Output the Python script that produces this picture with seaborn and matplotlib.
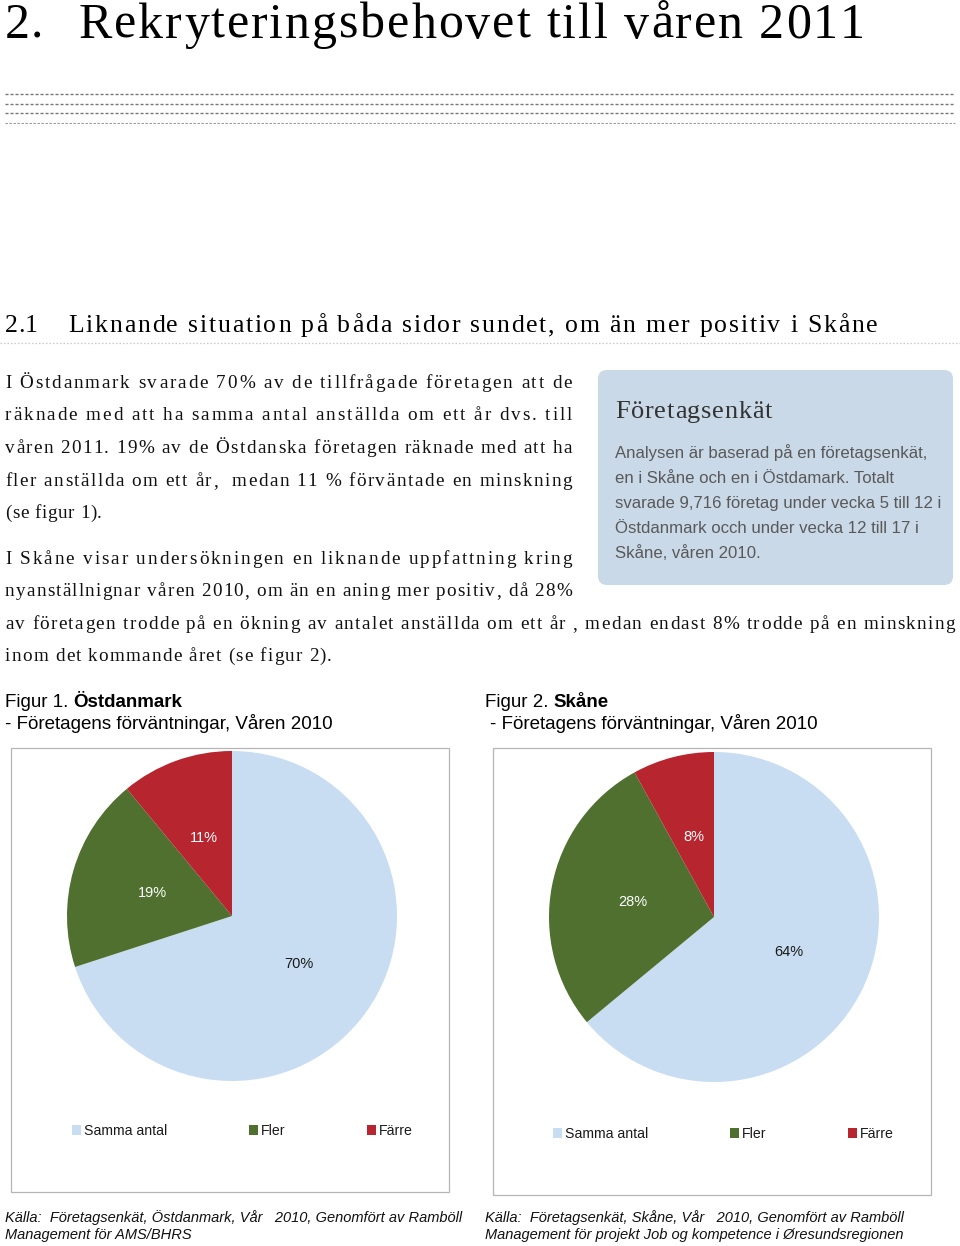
import matplotlib
matplotlib.use("Agg")
import numpy as np
import pandas as pd
import matplotlib.pyplot as plt
import seaborn as sns
from matplotlib.font_manager import FontProperties, fontManager
from matplotlib.patches import Rectangle, FancyBboxPatch

# ---------------- data ----------------
categories = ["Samma antal", "Fler", "Färre"]
ostdanmark = [70, 19, 11]
skane = [64, 28, 8]

heading1_num = "2."
heading1 = "Rekryteringsbehovet till våren 2011"
heading2_num = "2.1"
heading2 = "Liknande situation på båda sidor sundet, om än mer positiv i Skåne"
body_lines = [
    "I Östdanmark svarade 70% av de tillfrågade företagen att de",
    "räknade med att ha samma antal anställda om ett år dvs. till",
    "våren 2011. 19% av de Östdanska företagen räknade med att ha",
    "fler anställda om ett år,  medan 11 % förväntade en minskning",
    "(se figur 1).",
    "I Skåne visar undersökningen en liknande uppfattning kring",
    "nyanställnignar våren 2010, om än en aning mer positiv, då 28%",
    "av företagen trodde på en ökning av antalet anställda om ett år , medan endast 8% trodde på en minskning",
    "inom det kommande året (se figur 2).",
]
box_title = "Företagsenkät"
box_lines = [
    "Analysen är baserad på en företagsenkät,",
    "en i Skåne och en i Östdamark. Totalt",
    "svarade 9,716 företag under vecka 5 till 12 i",
    "Östdanmark occh under vecka 12 till 17 i",
    "Skåne, våren 2010.",
]
fig1_prefix, fig1_name = "Figur 1. ", "Östdanmark"
fig2_prefix, fig2_name = "Figur 2. ", "Skåne"
fig_subtitle = "- Företagens förväntningar, Våren 2010"
source1 = ["Källa:  Företagsenkät, Östdanmark, Vår   2010, Genomfört av Ramböll",
           "Management för AMS/BHRS"]
source2 = ["Källa:  Företagsenkät, Skåne, Vår   2010, Genomfört av Ramböll",
           "Management för projekt Job og kompetence i Øresundsregionen"]

# ---------------- style ----------------
sns.set_theme(style="white")
plt.rcParams["font.family"] = ["Liberation Sans", "DejaVu Sans"]
pie_colors = sns.color_palette(["#c8ddf2", "#4f702f", "#b7252f"])

avail = {f.name for f in fontManager.ttflist}
SERIF = "Liberation Serif" if "Liberation Serif" in avail else "DejaVu Serif"
SANS = "Liberation Sans" if "Liberation Sans" in avail else "DejaVu Sans"
NARROW = "Liberation Sans Narrow" if "Liberation Sans Narrow" in avail else SANS

W, H = 960, 1246
fig = plt.figure(figsize=(W / 100, H / 100), dpi=100)
fig.patch.set_facecolor("white")
pg = fig.add_axes([0, 0, 1, 1])
pg.set_xlim(0, W)
pg.set_ylim(H, 0)
pg.axis("off")
renderer = fig.canvas.get_renderer()


def fp(family, size, weight="normal", style="normal"):
    return FontProperties(family=family, size=size, weight=weight, style=style)


def text_w(s, prop):
    w, h, d = renderer.get_text_width_height_descent(s, prop, ismath=False)
    return w


_cache = {}


def adv(c, prop):
    key = (c, prop.get_family()[0], prop.get_size(), prop.get_weight(), prop.get_style())
    if key not in _cache:
        _cache[key] = text_w(c + "|", prop) - text_w("|", prop)
    return _cache[key]


def spaced(text, x0, y, prop, x1=None, tracking=0.0, color="#111111"):
    advs = [adv(c, prop) for c in text]
    if x1 is not None and len(text) > 1:
        nat = sum(advs[:-1]) + text_w(text[-1], prop)
        tracking = (x1 - x0 - nat) / (len(text) - 1)
    x = x0
    for c, a in zip(text, advs):
        if c != " ":
            pg.text(x, y, c, fontproperties=prop, color=color, ha="left", va="baseline")
        x += a + tracking
    return tracking


def fit_size(text, width, family, weight="normal", style="normal"):
    return 10.0 * width / text_w(text, fp(family, 10, weight, style))


# ---------------- headings ----------------
h1 = fp(SERIF, 36)
spaced(heading1_num, 5, 38, h1, tracking=1, color="black")
spaced(heading1, 79, 38, h1, x1=865, color="black")

for y, col, lw in [(94, "#777777", 1.0), (104, "#777777", 1.0), (113, "#777777", 1.0), (123, "#9a9a9a", 0.8)]:
    pg.plot([5, 955], [y, y], color=col, lw=lw, linestyle=(0, (2.2, 1.4)))

h2 = fp(SERIF, 18.5)
spaced(heading2_num, 5, 332, h2, x1=38, color="black")
spaced(heading2, 68, 332, h2, x1=878, color="black")
pg.plot([0, 960], [343, 343], color="#c8c8c8", lw=0.9, linestyle=(0, (1.2, 1.6)))

# ---------------- body text ----------------
bp = fp(SERIF, 13.8)
body_y = [388, 420, 453, 486, 518, 564, 596, 629, 661]
body_x1 = [572, 572, 572, 572, 102, 572, 572, 955, 332]
for t, y, x1 in zip(body_lines, body_y, body_x1):
    spaced(t, 5, y, bp, x1=x1)

# ---------------- info box ----------------
r = 9
pg.add_patch(FancyBboxPatch((598 + r, 370 + r), 355 - 2 * r, 215 - 2 * r,
                            boxstyle=f"round,pad={r}", facecolor="#c9d9e8",
                            edgecolor="none", zorder=0))
spaced(box_title, 615, 418, fp(SERIF, 19), x1=772, color="#333333")
bsize = fit_size(box_lines[2], 941 - 615, SANS)
for i, t in enumerate(box_lines):
    pg.text(615, 458 + 25 * i, t, fontproperties=fp(SANS, bsize), color="#595959",
            ha="left", va="baseline")

# ---------------- figure captions ----------------
csize = fit_size(fig_subtitle, 329, NARROW)
for x, xs, pre, name in [(5, 5, fig1_prefix, fig1_name), (485, 490, fig2_prefix, fig2_name)]:
    pn = fp(NARROW, csize)
    pb = fp(NARROW, csize, weight="bold")
    pg.text(x, 707, pre, fontproperties=pn, color="black", ha="left", va="baseline")
    wpre = text_w(pre + "|", pn) - text_w("|", pn)
    pg.text(x + wpre, 707, name, fontproperties=pb, color="black", ha="left", va="baseline")
    pg.text(xs, 729, fig_subtitle, fontproperties=pn, color="black", ha="left", va="baseline")

# ---------------- chart frames ----------------
pg.add_patch(Rectangle((11, 748), 438, 444, fill=False, edgecolor="#b5b5b5", lw=0.9))
pg.add_patch(Rectangle((493, 748), 438, 447, fill=False, edgecolor="#b5b5b5", lw=0.9))

# ---------------- pies ----------------
def draw_pie(values, cx, cy, rad, legend_x, legend_y):
    ax = fig.add_axes([(cx - rad) / W, 1 - (cy + rad) / H, 2 * rad / W, 2 * rad / H])
    wedges, texts, autotexts = ax.pie(
        values, colors=pie_colors, startangle=90, counterclock=False,
        autopct=lambda p: f"{p:.0f}%", pctdistance=0.5,
        wedgeprops=dict(linewidth=0), textprops=dict(fontsize=10.5, family=SANS))
    for t, c in zip(autotexts, ["#1a1a1a", "white", "white"]):
        t.set_color(c)
    ax.set_xlim(-1, 1)
    ax.set_ylim(-1, 1)
    ax.set_aspect("equal")
    ax.axis("off")
    fig.legend(wedges, categories, ncol=3, loc="center left",
               bbox_to_anchor=(legend_x / W, 1 - legend_y / H),
               frameon=False, borderpad=0, borderaxespad=0,
               handlelength=0.65, handleheight=0.65, handletextpad=0.2,
               columnspacing=5.75, prop=fp(SANS, 10.2), labelcolor="#1a1a1a")
    return ax


draw_pie(ostdanmark, 232, 916, 165, 72, 1131)
draw_pie(skane, 714, 917, 165, 553, 1134)

# ---------------- sources ----------------
ssize = fit_size(source1[0], 458, NARROW, style="italic")
ps = fp(NARROW, ssize, style="italic")
for i, t in enumerate(source1):
    pg.text(5, 1222 + 17 * i, t, fontproperties=ps, color="#111111", ha="left", va="baseline")
for i, t in enumerate(source2):
    pg.text(485, 1222 + 17 * i, t, fontproperties=ps, color="#111111", ha="left", va="baseline")

fig.savefig("out.png", dpi=100, facecolor="white")
